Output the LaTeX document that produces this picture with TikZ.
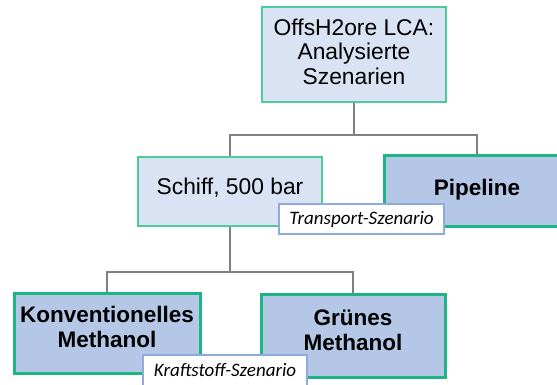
\documentclass[tikz,border=0pt]{standalone}
\usepackage{fontspec}
\setmainfont{Liberation Sans}
\newfontfamily\labelfont{Carlito}
\definecolor{lightfill}{HTML}{DAE3F3}
\definecolor{darkfill}{HTML}{B4C7E7}
\definecolor{lightgreen}{HTML}{4CCB9E}
\definecolor{darkgreen}{HTML}{1DB584}
\definecolor{labelblue}{HTML}{8FAADC}
\definecolor{connGray}{HTML}{808080}
\tikzset{
  lightbox/.style={draw=lightgreen, fill=lightfill, line width=1.4pt, inner sep=0pt},
  darkbox/.style={draw=darkgreen, fill=darkfill, line width=3pt, inner sep=0pt},
  lighttext/.style={align=center, inner sep=0pt, font=\fontsize{22.8}{24.5}\selectfont},
  darktext/.style={align=center, inner sep=0pt, font=\fontsize{22.5}{25}\selectfont\bfseries},
  tag/.style={draw=labelblue, fill=white, line width=1.2pt, inner sep=0pt,
    font=\fontsize{19}{21}\selectfont\labelfont\itshape},
  conn/.style={draw=connGray, line width=1.3pt}
}
\begin{document}
\begin{tikzpicture}[x=1pt,y=-1pt]
\useasboundingbox (0,0) rectangle (557,385);
\node[lightbox, minimum width=184pt, minimum height=95pt] (top) at (354,54.5) {};
\node[lighttext, yshift=3pt] (topT) at (top.center) {OffsH2ore LCA:\\Analysierte\\Szenarien};
\node[lightbox, minimum width=184pt, minimum height=69pt] (schiff) at (230,191.5) {};
\node[lighttext, yshift=4pt] (schiffT) at (schiff.center) {Schiff, 500 bar};
\node[darkbox, minimum width=186pt, minimum height=70pt] (pipe) at (477,191) {};
\node[darktext, yshift=1pt] (pipeT) at (pipe.center) {Pipeline};
\node[darkbox, minimum width=186pt, minimum height=80pt] (konv) at (107,333) {};
\node[darktext, yshift=6pt] (konvT) at (konv.center) {Konventionelles\\Methanol};
\node[darkbox, minimum width=184pt, minimum height=83pt] (gruen) at (353,335.5) {};
\node[darktext, yshift=5.5pt] (gruenT) at (gruen.center) {Grünes\\Methanol};
\coordinate (j1) at (354,135);
\coordinate (j2) at (230,272);
\draw[conn] (top.south) -- (j1) -| (schiff.north);
\draw[conn] (j1) -| (pipe.north);
\draw[conn] (schiff.south) -- (j2) -| (konv.north);
\draw[conn] (j2) -| (gruen.north);
\node[tag, minimum width=165pt, minimum height=30pt] (tlabel) at (361.5,219) {Transport-Szenario};
\node[tag, minimum width=164pt, minimum height=34pt, text depth=0pt] (klabel) at (225,372) {\raisebox{5pt}{Kraftstoff-Szenario}};
\end{tikzpicture}
\end{document}
